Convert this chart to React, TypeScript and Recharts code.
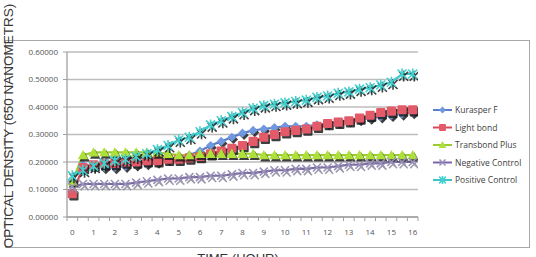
import React from 'react';
import { LineChart, Line, XAxis, YAxis, CartesianGrid } from 'recharts';

const hours = [0, 0.5, 1, 1.5, 2, 2.5, 3, 3.5, 4, 4.5, 5, 5.5, 6, 6.5, 7, 7.5, 8, 8.5, 9, 9.5, 10, 10.5, 11, 11.5, 12, 12.5, 13, 13.5, 14, 14.5, 15, 15.5, 16];
const kurasperF = [0.13, 0.19, 0.185, 0.18, 0.18, 0.185, 0.19, 0.195, 0.2, 0.21, 0.215, 0.225, 0.24, 0.26, 0.275, 0.29, 0.305, 0.315, 0.32, 0.325, 0.33, 0.33, 0.33, 0.335, 0.34, 0.345, 0.35, 0.355, 0.36, 0.365, 0.37, 0.375, 0.38];
const lightBond = [0.085, 0.18, 0.19, 0.195, 0.195, 0.2, 0.2, 0.205, 0.205, 0.21, 0.21, 0.215, 0.22, 0.23, 0.24, 0.25, 0.26, 0.275, 0.29, 0.3, 0.31, 0.315, 0.32, 0.33, 0.34, 0.345, 0.35, 0.36, 0.37, 0.38, 0.385, 0.39, 0.39];
const transbondPlus = [0.13, 0.225, 0.235, 0.235, 0.235, 0.235, 0.235, 0.235, 0.235, 0.23, 0.225, 0.225, 0.23, 0.23, 0.23, 0.23, 0.23, 0.23, 0.225, 0.225, 0.225, 0.225, 0.225, 0.225, 0.225, 0.225, 0.225, 0.225, 0.225, 0.225, 0.225, 0.225, 0.225];
const negativeControl = [0.11, 0.12, 0.12, 0.12, 0.12, 0.12, 0.125, 0.13, 0.135, 0.14, 0.14, 0.145, 0.145, 0.15, 0.15, 0.155, 0.16, 0.16, 0.165, 0.17, 0.17, 0.175, 0.175, 0.18, 0.18, 0.185, 0.19, 0.19, 0.195, 0.195, 0.2, 0.2, 0.2];
const positiveControl = [0.15, 0.17, 0.185, 0.195, 0.205, 0.21, 0.22, 0.23, 0.245, 0.26, 0.28, 0.29, 0.31, 0.335, 0.35, 0.365, 0.38, 0.395, 0.405, 0.41, 0.415, 0.42, 0.425, 0.435, 0.44, 0.45, 0.455, 0.465, 0.47, 0.48, 0.49, 0.52, 0.52];
const xTicks = [0, 1, 2, 3, 4, 5, 6, 7, 8, 9, 10, 11, 12, 13, 14, 15, 16];
const yTicks = [0, 0.1, 0.2, 0.3, 0.4, 0.5, 0.6];

const seriesNames = ['Kurasper F', 'Light bond', 'Transbond Plus', 'Negative Control', 'Positive Control'];
const seriesKeys = ['kurasper', 'light', 'transbond', 'negative', 'positive'];
const lineColors = ['#5a7fc8', '#d84a58', '#9acd32', '#7a66a8', '#3fc4c8'];
const markerColors = ['#7098e0', '#e35a68', '#aee03a', '#9a92b8', '#45d0d0'];
const kinds = ['diamond', 'square', 'triangle', 'x', 'star'];

const data = hours.map((t, i) => ({
  t,
  kurasper: kurasperF[i],
  light: lightBond[i],
  transbond: transbondPlus[i],
  negative: negativeControl[i],
  positive: positiveControl[i],
}));

function shape(kind: string, cx: number, cy: number, color: string, s = 1) {
  if (kind === 'diamond') {
    const r = 4.6 * s;
    return <path d={`M${cx},${cy - r} L${cx + r},${cy} L${cx},${cy + r} L${cx - r},${cy} Z`} fill={color} />;
  }
  if (kind === 'square') {
    const r = 4.6 * s;
    return <rect x={cx - r} y={cy - r} width={2 * r} height={2 * r} fill={color} rx={1} />;
  }
  if (kind === 'triangle') {
    const r = 5.2 * s;
    return <path d={`M${cx},${cy - r} L${cx + r},${cy + r * 0.8} L${cx - r},${cy + r * 0.8} Z`} fill={color} />;
  }
  if (kind === 'x') {
    const r = 4 * s;
    return <path d={`M${cx - r},${cy - r} L${cx + r},${cy + r} M${cx + r},${cy - r} L${cx - r},${cy + r}`} stroke={color} strokeWidth={1.6} fill="none" />;
  }
  const r = 4.5 * s;
  return (
    <path
      d={`M${cx - r},${cy - r} L${cx + r},${cy + r} M${cx + r},${cy - r} L${cx - r},${cy + r} M${cx},${cy - r * 1.2} L${cx},${cy + r * 1.2}`}
      stroke={color}
      strokeWidth={1.6}
      fill="none"
    />
  );
}

const makeDot = (idx: number) => (props: any) => {
  const { cx, cy, index } = props;
  if (cx == null || cy == null) return <g key={`d${idx}-${index}`} />;
  const shadowColor = idx === 3 ? '#8a8a9a' : '#1c1c1c';
  return (
    <g key={`d${idx}-${index}`}>
      <g opacity={0.85}>{shape(kinds[idx], cx + 1.6, cy + 2.2, shadowColor)}</g>
      {shape(kinds[idx], cx, cy, markerColors[idx])}
    </g>
  );
};

const XTick = (props: any) => {
  const { x, y, payload } = props;
  const half = 5.32;
  return (
    <g>
      <line x1={x - half} x2={x - half} y1={y - 8} y2={y - 4} stroke="#a0a0a0" />
      <line x1={x + half} x2={x + half} y1={y - 8} y2={y - 4} stroke="#a0a0a0" />
      <text x={x} y={y + 10} textAnchor="middle" fontSize={8} fill="#555" fontFamily="'Open Sans', 'Liberation Sans', sans-serif">
        {payload.value}
      </text>
    </g>
  );
};

const LegendBox = () => (
  <svg width={110} height={90} style={{ position: 'absolute', left: 431, top: 102, display: 'block' }}>
    {seriesNames.map((n, i) => {
      const y = 8 + i * 17.5;
      return (
        <g key={n}>
          <line x1={2} x2={21} y1={y} y2={y} stroke={lineColors[i]} strokeWidth={2} />
          {shape(kinds[i], 11.5, y, markerColors[i], 0.75)}
          <text x={24} y={y + 3} fontSize={8.5} fill="#404040" fontFamily="'Open Sans', 'Liberation Sans', sans-serif">
            {n}
          </text>
        </g>
      );
    })}
  </svg>
);

const fontFam = "'Liberation Sans', Arial, sans-serif";

export default function App() {
  return (
    <div style={{ position: 'absolute', left: 0, top: 0, width: 536, height: 257, background: '#fff', overflow: 'hidden' }}>
      <div style={{ position: 'absolute', left: 5, top: 40, width: 523, height: 206, border: '1px solid #a8a8a8' }} />
      <div style={{ position: 'absolute', left: 0, top: 0 }}>
        <LineChart width={536} height={257} data={data} margin={{ top: 52, right: 118, bottom: 0, left: 0 }}>
          <CartesianGrid vertical={false} stroke="#bdbdbd" strokeWidth={1.3} />
          <XAxis
            dataKey="t"
            type="number"
            domain={[-0.25, 16.25]}
            ticks={xTicks}
            interval={0}
            tickLine={false}
            tickSize={4}
            tickMargin={4}
            axisLine={{ stroke: '#a0a0a0', strokeWidth: 1.3 }}
            tick={<XTick />}
            height={40}
            allowDataOverflow
          />
          <YAxis
            domain={[0, 0.6]}
            ticks={yTicks}
            width={67}
            tickFormatter={(v: number) => v.toFixed(5)}
            tick={{ fontSize: 8, fill: '#555', fontFamily: "'Open Sans', 'Liberation Sans', sans-serif" }}
            tickSize={4}
            tickMargin={5}
            tickLine={{ stroke: '#a0a0a0' }}
            axisLine={{ stroke: '#a0a0a0', strokeWidth: 1.3 }}
            label={{
              content: () => (
                <text
                  x={13}
                  y={126}
                  transform="rotate(-90, 13, 126)"
                  textAnchor="middle"
                  fontSize={13.5}
                  fill="#383838"
                  fontFamily={fontFam}
                >
                  OPTICAL DENSITY (650 NANOMETRS)
                </text>
              ),
            }}
          />
          {seriesKeys.map((k, i) => (
            <Line
              key={k}
              dataKey={k}
              name={seriesNames[i]}
              stroke={lineColors[i]}
              strokeWidth={2.2}
              dot={makeDot(i)}
              activeDot={false}
              isAnimationActive={false}
            />
          ))}
        </LineChart>
      </div>
      <LegendBox />
      <div
        style={{
          position: 'absolute',
          left: 0,
          width: 476,
          top: 251,
          textAlign: 'center',
          fontSize: 13,
          color: '#333',
          fontFamily: fontFam,
          lineHeight: '15px',
        }}
      >
        TIME (HOUR)
      </div>
    </div>
  );
}
